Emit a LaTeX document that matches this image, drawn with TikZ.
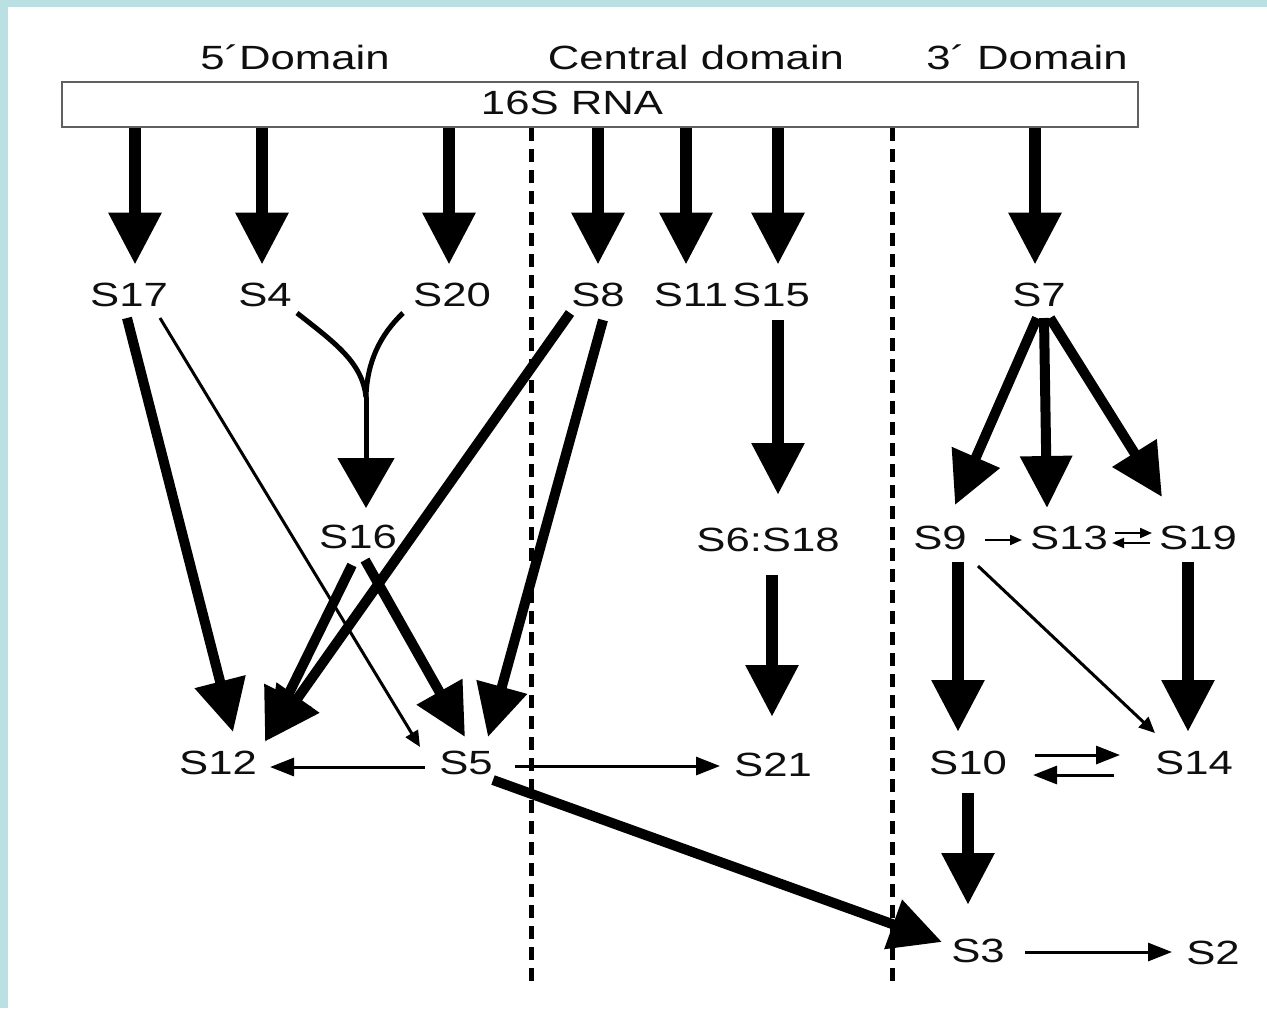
\documentclass[tikz,border=0pt]{standalone}
\usepackage{graphicx}
\usepackage{fontspec}
\setmainfont{Liberation Sans}
\usetikzlibrary{arrows.meta,calc}

\definecolor{framecol}{RGB}{187,224,228}
\definecolor{inkcol}{RGB}{15,15,15}
\newcommand{\wide}[1]{\scalebox{1.3}[1]{#1}}

\tikzset{
  prot/.style={inner sep=0pt, text=inkcol, font=\fontsize{16.8}{20}\selectfont},
  heavy/.style={line width=6pt, -{Triangle[width=25pt,length=26pt]}},
  bold/.style={line width=5pt, -{Triangle[width=25pt,length=26pt]}},
  thin/.style={line width=1.5pt, -{Triangle[width=9pt,length=12pt]}},
  slim/.style={line width=1.5pt, -{Triangle[width=7pt,length=8pt]}},
  tiny/.style={line width=1pt, -{Triangle[width=5pt,length=6pt]}},
  curvy/.style={line width=2.5pt},
  domdash/.style={line width=2.5pt, dash pattern=on 6.5pt off 4pt},
}

\begin{document}
\begin{tikzpicture}[x=0.5pt, y=-0.5pt]
  \fill[framecol] (0,0) rectangle (1267,1008);
  \fill[white] (8,7) rectangle (1267,1008);

  % domains and the RNA bar
  \node[prot] (d5) at (295,57) {\wide{5´Domain}};
  \node[prot] (dc) at (696,57) {\wide{Central domain}};
  \node[prot] (d3) at (1027,57) {\wide{3´ Domain}};
  \node[draw=gray!75!black, line width=1pt, minimum width=538pt, minimum height=22.5pt, inner sep=0pt] (rna) at (600,104.5) {};
  \node[prot] (rnalbl) at (572,103) {\wide{16S RNA}};

  % domain borders
  \draw[domdash] (531,128) -- (531,985);
  \draw[domdash] (892,128) -- (892,985);

  % proteins
  \node[prot] (S17) at (129,295) {\wide{S17}};
  \node[prot] (S4) at (265,295) {\wide{S4}};
  \node[prot] (S20) at (452,295) {\wide{S20}};
  \node[prot] (S8) at (598,295) {\wide{S8}};
  \node[prot] (S11) at (691,295) {\wide{S11}};
  \node[prot] (S15) at (771,295) {\wide{S15}};
  \node[prot] (S7) at (1039,295) {\wide{S7}};
  \node[prot] (S16) at (358,537) {\wide{S16}};
  \node[prot] (S618) at (768,540) {\wide{S6:S18}};
  \node[prot] (S9) at (940,538) {\wide{S9}};
  \node[prot] (S13) at (1069,538) {\wide{S13}};
  \node[prot] (S19) at (1198,538) {\wide{S19}};
  \node[prot] (S12) at (218,763) {\wide{S12}};
  \node[prot] (S5) at (466,763) {\wide{S5}};
  \node[prot] (S21) at (773,765) {\wide{S21}};
  \node[prot] (S10) at (968,763) {\wide{S10}};
  \node[prot] (S14) at (1194,763) {\wide{S14}};
  \node[prot] (S3) at (978,951) {\wide{S3}};
  \node[prot] (S2) at (1213,953) {\wide{S2}};

  % primary binders
  \foreach \n/\dx in {S17/6,S4/-3,S20/-3,S8/0,S11/-5,S15/7,S7/-4}
    \draw[heavy] ($(\n.north |- rna.south)+(\dx,0)$) -- ($(\n.north)+(\dx,-18)$);

  % 5' domain
  \coordinate (merge) at (366,397);
  \draw[curvy] ($(S4)+(32,18)$) .. controls (335,343) and (362,362) .. (merge);
  \draw[curvy] ($(S20)+(-49,18)$) .. controls (380,335) and (367,362) .. (merge);
  \draw[curvy, -{Triangle[width=28pt,length=25pt]}] (merge) -- ($(S16)+(8,-29)$);
  \draw[bold] ($(S17)+(-2,23)$) -- ($(S12)+(15,-31)$);
  \draw[slim] ($(S17)+(31,23)$) -- ($(S5)+(-46,-16)$);
  \draw[bold] ($(S16)+(-6,28)$) -- ($(S12)+(47,-21)$);
  \draw[bold] ($(S16)+(7,23)$) -- ($(S5)+(-1,-26)$);
  \draw[bold] ($(S8)+(-28,18)$) -- ($(S12)+(50,-23)$);
  \draw[bold] ($(S8)+(5,25)$) -- ($(S5)+(22,-26)$);
  \draw[thin] ($(S5)+(-41,4)$) -- ($(S12)+(52,4)$);
  \draw[thin] ($(S5)+(49,3)$) -- ($(S21)+(-53,1)$);
  \draw[bold] ($(S5)+(27,17)$) -- ($(S3)+(-36,-9)$);

  % central domain
  \draw[heavy] ($(S15)+(7,25)$) -- ($(S618)+(10,-45)$);
  \draw[heavy] ($(S618)+(4,35)$) -- ($(S21)+(-1,-48)$);

  % 3' domain
  \draw[bold] ($(S7)+(-2,23)$) -- ($(S9)+(15,-33)$);
  \draw[bold] ($(S7)+(5,23)$) -- ($(S13)+(-22,-30)$);
  \draw[bold] ($(S7)+(11,23)$) -- ($(S19)+(-36,-41)$);
  \draw[heavy] ($(S9)+(18,24)$) -- ($(S10)+(-10,-31)$);
  \draw[heavy] ($(S19)+(-10,24)$) -- ($(S14)+(-6,-31)$);
  \draw[slim] ($(S9)+(38,28)$) -- ($(S14)+(-39,-30)$);
  \draw[tiny] ($(S9)+(45,2)$) -- ($(S13)+(-47,2)$);
  \draw[tiny] ($(S13)+(46,-5)$) -- ($(S19)+(-46,-5)$);
  \draw[tiny] ($(S19)+(-48,5)$) -- ($(S13)+(43,5)$);
  \draw[thin] ($(S10)+(67,-8)$) -- ($(S14)+(-74,-8)$);
  \draw[thin] ($(S14)+(-80,12)$) -- ($(S10)+(65,12)$);
  \draw[heavy] ($(S10)+(0,30)$) -- ($(S3)+(-10,-46)$);
  \draw[thin] ($(S3)+(47,1)$) -- ($(S2)+(-41,-1)$);
\end{tikzpicture}
\end{document}
